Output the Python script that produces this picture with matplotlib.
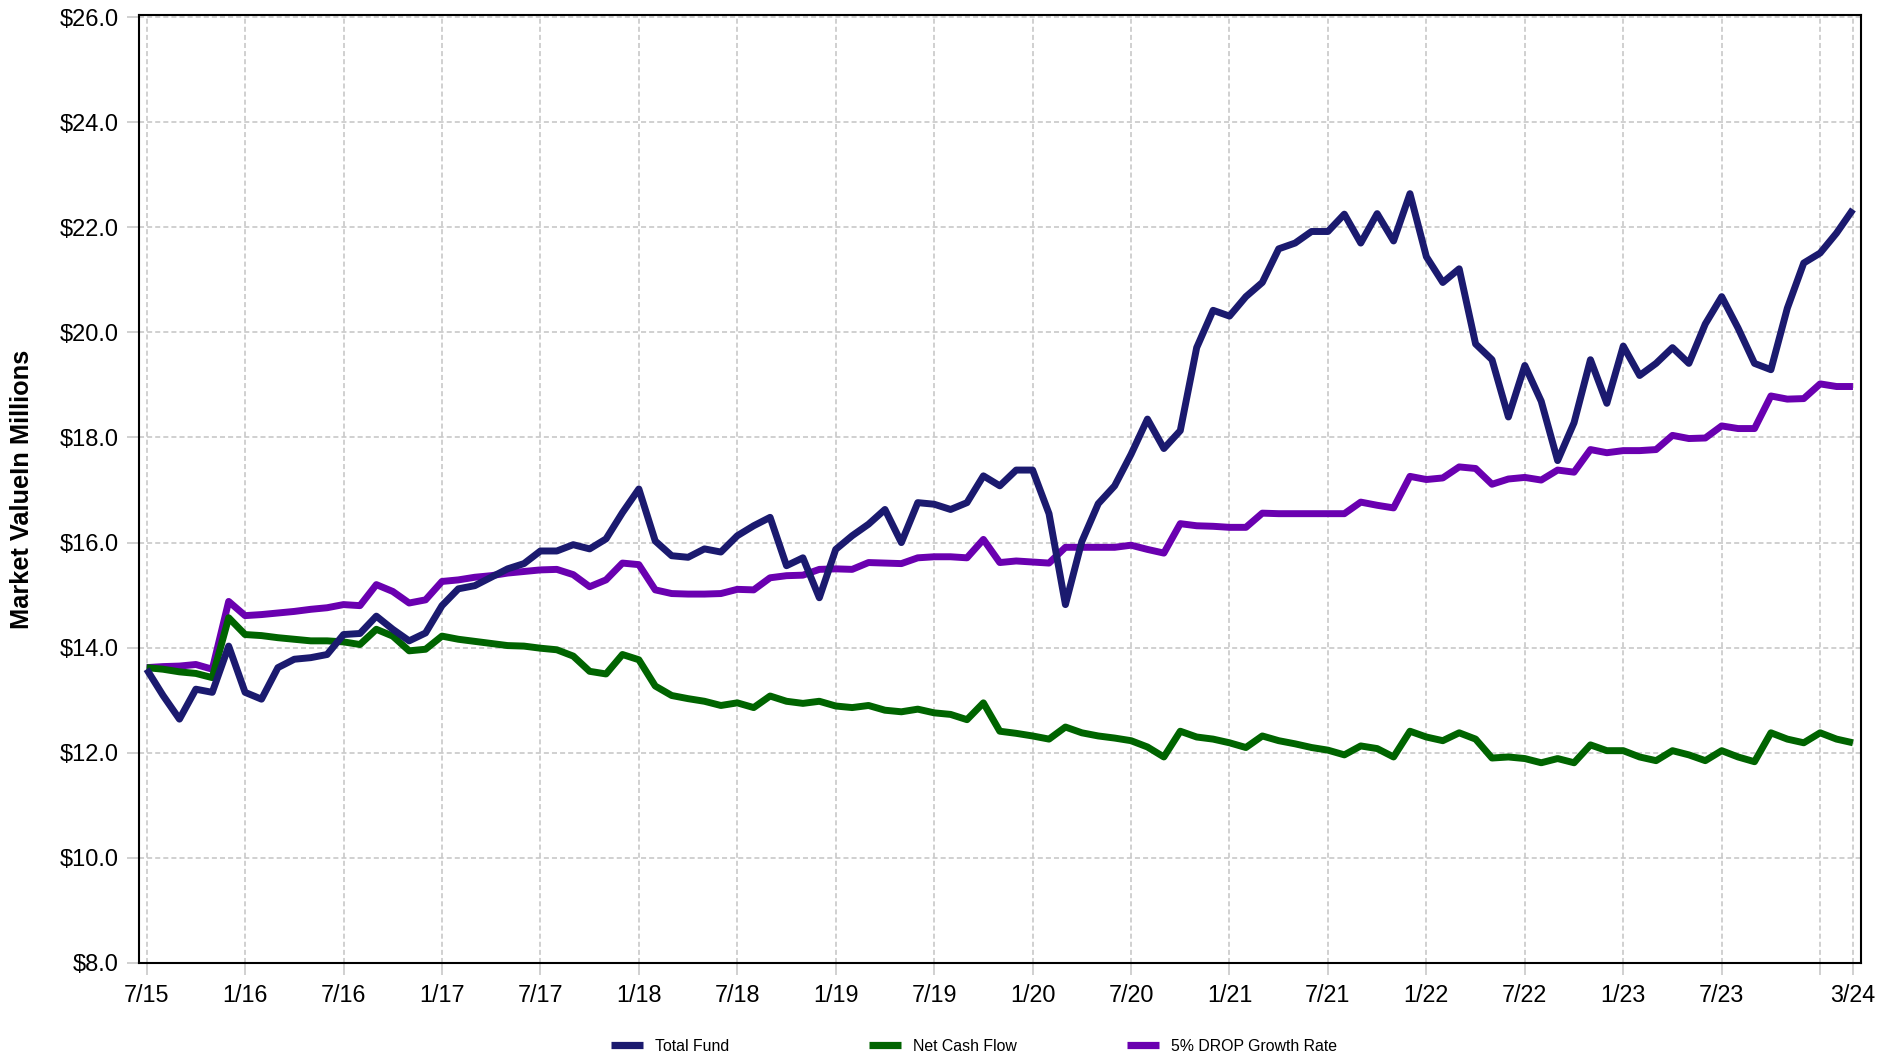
import numpy as np
import pandas as pd
import matplotlib
matplotlib.use("Agg")
import matplotlib.pyplot as plt
from matplotlib.lines import Line2D

# monthly market values ($ millions), 7/15 .. 3/24
months = pd.date_range("2015-07-01", "2024-03-01", freq="MS")

total_fund = [
    13.59, 13.09, 12.64, 13.21, 13.15, 14.03, 13.15, 13.02, 13.62, 13.78, 13.81, 13.87,
    14.25, 14.27, 14.60, 14.35, 14.13, 14.28, 14.80, 15.12, 15.18, 15.34, 15.50, 15.60,
    15.84, 15.84, 15.96, 15.88, 16.07, 16.57, 17.02, 16.03, 15.75, 15.72, 15.88, 15.82,
    16.13, 16.32, 16.48, 15.56, 15.71, 14.95, 15.87, 16.13, 16.35, 16.63, 16.00, 16.76,
    16.73, 16.63, 16.76, 17.27, 17.08, 17.38, 17.38, 16.55, 14.82, 16.02, 16.74, 17.08,
    17.68, 18.35, 17.79, 18.13, 19.71, 20.42, 20.31, 20.68, 20.95, 21.59, 21.70, 21.92,
    21.92, 22.25, 21.70, 22.26, 21.74, 22.64, 21.44, 20.95, 21.21, 19.78, 19.48, 18.39,
    19.37, 18.69, 17.56, 18.28, 19.48, 18.65, 19.74, 19.18, 19.41, 19.71, 19.41, 20.16,
    20.68, 20.08, 19.41, 19.29, 20.46, 21.32, 21.51, 21.89, 22.34,
]

net_cash_flow = [
    13.62, 13.59, 13.54, 13.51, 13.43, 14.57, 14.25, 14.23, 14.19, 14.16, 14.13, 14.13,
    14.11, 14.06, 14.35, 14.22, 13.94, 13.97, 14.22, 14.16, 14.12, 14.08, 14.04, 14.03,
    13.99, 13.96, 13.84, 13.55, 13.50, 13.87, 13.77, 13.27, 13.09, 13.03, 12.98, 12.90,
    12.95, 12.86, 13.08, 12.98, 12.94, 12.98, 12.89, 12.86, 12.90, 12.81, 12.78, 12.83,
    12.76, 12.73, 12.63, 12.95, 12.41, 12.37, 12.32, 12.26, 12.49, 12.38, 12.32, 12.28,
    12.23, 12.11, 11.92, 12.41, 12.30, 12.26, 12.19, 12.10, 12.32, 12.23, 12.17, 12.10,
    12.05, 11.96, 12.13, 12.08, 11.92, 12.41, 12.30, 12.23, 12.38, 12.26, 11.90, 11.92,
    11.89, 11.81, 11.89, 11.81, 12.15, 12.04, 12.04, 11.92, 11.85, 12.04, 11.96, 11.85,
    12.04, 11.92, 11.83, 12.38, 12.26, 12.19, 12.38, 12.26, 12.19,
]

drop_growth = [
    13.62, 13.64, 13.65, 13.68, 13.59, 14.88, 14.61, 14.63, 14.66, 14.69, 14.73, 14.76,
    14.82, 14.80, 15.20, 15.07, 14.85, 14.91, 15.26, 15.29, 15.34, 15.37, 15.42, 15.45,
    15.48, 15.49, 15.39, 15.16, 15.29, 15.61, 15.58, 15.10, 15.03, 15.02, 15.02, 15.03,
    15.11, 15.10, 15.33, 15.37, 15.38, 15.49, 15.50, 15.49, 15.62, 15.61, 15.60, 15.71,
    15.73, 15.73, 15.71, 16.06, 15.62, 15.65, 15.63, 15.61, 15.91, 15.91, 15.91, 15.91,
    15.95, 15.87, 15.80, 16.36, 16.32, 16.31, 16.29, 16.29, 16.56, 16.55, 16.55, 16.55,
    16.55, 16.55, 16.77, 16.71, 16.66, 17.26, 17.20, 17.23, 17.44, 17.41, 17.11, 17.21,
    17.24, 17.19, 17.38, 17.34, 17.77, 17.71, 17.75, 17.75, 17.77, 18.04, 17.98, 17.99,
    18.22, 18.17, 18.17, 18.79, 18.73, 18.74, 19.02, 18.97, 18.97,
]

series_names = ["Total Fund", "Net Cash Flow", "5% DROP Growth Rate"]
colors = ["#1b1a6f", "#006400", "#6a00b0"]

y_ticks = [8, 10, 12, 14, 16, 18, 20, 22, 24, 26]

x = np.arange(len(months))
# gridlines every January / July, plus the last month
tick_idx = [i for i, m in enumerate(months) if m.month in (1, 7)] + [len(months) - 1]
tick_labels = [f"{months[i].month}/{months[i].strftime('%y')}" for i in tick_idx]
tick_labels[-2] = ""   # 1/24 has a gridline but no label

plt.rcParams["font.family"] = ["Liberation Sans", "DejaVu Sans"]

fig = plt.figure(figsize=(18.98, 10.56), dpi=100)
ax = fig.add_axes([0.0732, 0.0881, 0.9073, 0.8977])

grid_kw = dict(color="#c4c4c4", lw=1.1, ls=(0, (3.3, 2)))
ax.grid(True, **grid_kw)
ax.set_axisbelow(True)

line_kw = dict(lw=5.0, solid_joinstyle="round", solid_capstyle="butt")
ax.plot(x, drop_growth, color=colors[2], **line_kw)
ax.plot(x, net_cash_flow, color=colors[1], **line_kw)
ax.plot(x, total_fund, color=colors[0], **line_kw)

ax.set_xlim(-0.47, len(months) - 1 + 0.49)
ax.set_ylim(8, 26.04)
ax.set_xticks(tick_idx)
ax.set_xticklabels(tick_labels, fontsize=16.8)
ax.set_yticks(y_ticks)
ax.set_yticklabels([f"${v:.1f}" for v in y_ticks], fontsize=17)
ax.tick_params(axis="both", color="#c4c4c4", length=8.5, width=1.1)
ax.tick_params(axis="x", pad=7)
ax.tick_params(axis="y", pad=6)

for s in ax.spines.values():
    s.set_color("black")
    s.set_linewidth(1.5)

fig.text(0.0116, 0.537, "Market ValueIn Millions", rotation=90, ha="center", va="center",
         fontsize=18.3, fontweight="bold")

# legend: three evenly spaced entries under the plot
leg_x = [0.322, 0.458, 0.594]
for name, c, lx in zip(series_names, colors, leg_x):
    h = Line2D([], [], color=c, lw=5.2, solid_capstyle="butt")
    fig.legend([h], [name], loc="center left", bbox_to_anchor=(lx, 0.009),
               frameon=False, fontsize=11.4, handlelength=2.0, handletextpad=0.75,
               borderpad=0, borderaxespad=0)

fig.savefig("out.png", dpi=100)
